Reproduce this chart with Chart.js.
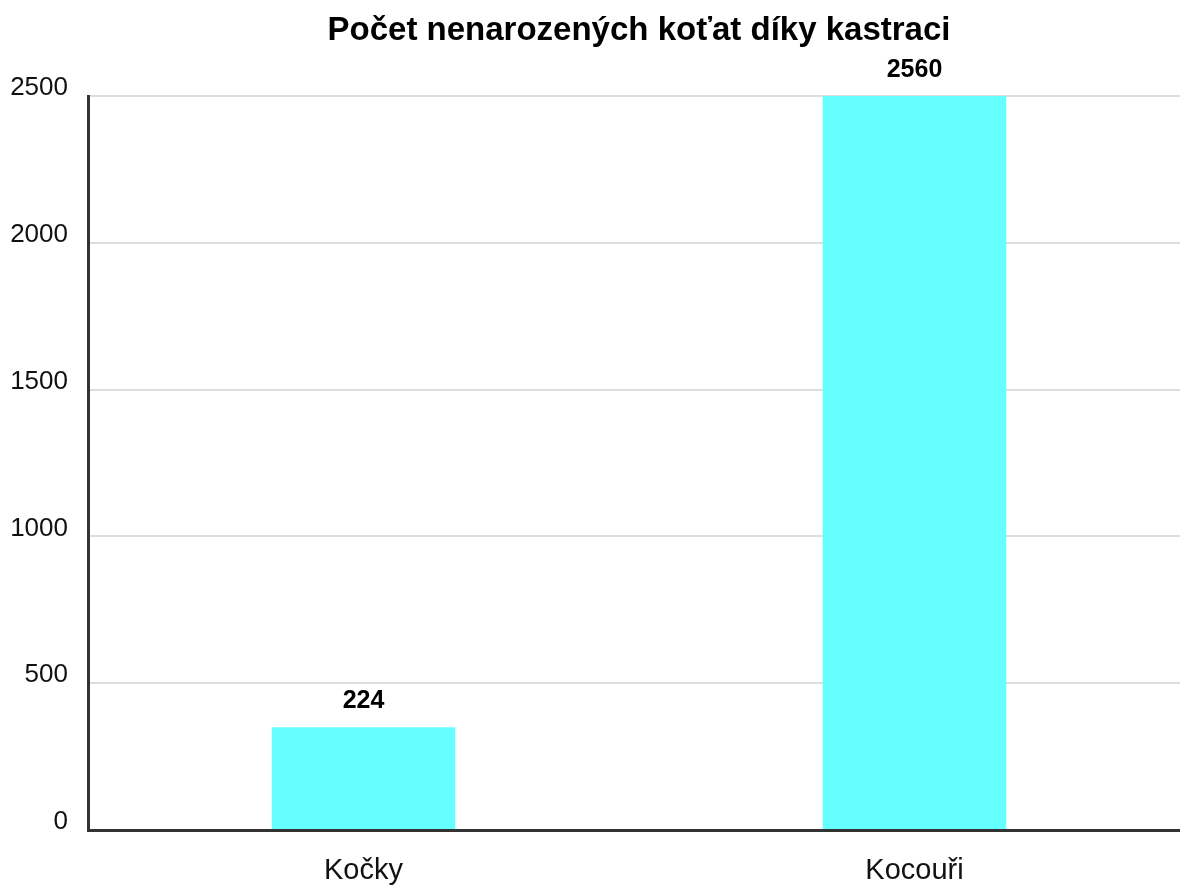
<!DOCTYPE html>
<html>
<head>
<meta charset="utf-8">
<script src="https://cdn.jsdelivr.net/npm/chart.js@4/dist/chart.umd.min.js"></script>
<style>
  html, body { margin: 0; padding: 0; background: #fff; overflow: hidden; }
  #wrap { position: relative; width: 1192px; height: 892px; }
</style>
</head>
<body>
<div id="wrap"><canvas id="c" width="1192" height="892"></canvas></div>
<script>
const titleText = "Počet nenarozených koťat díky kastraci";
const categories = ["Kočky", "Kocouři"];
const barValues = [350, 2560];
const valueLabels = ["224", "2560"];
const yTicks = [0, 500, 1000, 1500, 2000, 2500];

const FONT = "'Liberation Sans', Arial, sans-serif";

const overlayPlugin = {
  id: 'overlay',
  afterDatasetsDraw(chart) {
    const ctx = chart.ctx;
    const area = chart.chartArea;
    ctx.save();
    ctx.fillStyle = '#000';
    ctx.font = "bold 33px " + FONT;
    ctx.textAlign = 'center';
    ctx.textBaseline = 'middle';
    ctx.fillText(titleText, (area.left + area.right) / 2, 31);
    const meta = chart.getDatasetMeta(0);
    ctx.font = "bold 25px " + FONT;
    meta.data.forEach((bar, i) => {
      const top = Math.max(bar.y, area.top);
      ctx.fillText(valueLabels[i], bar.x, top - 26);
    });
    ctx.restore();
  }
};

new Chart(document.getElementById('c'), {
  type: 'bar',
  data: {
    labels: categories,
    datasets: [{
      data: barValues,
      backgroundColor: '#66FFFF',
      borderWidth: 0,
      barPercentage: 0.333,
      categoryPercentage: 1.0
    }]
  },
  options: {
    responsive: false,
    animation: false,
    devicePixelRatio: 1,
    layout: { padding: { top: 96, left: 0, right: 2, bottom: 0 } },
    plugins: { legend: { display: false }, tooltip: { enabled: false }, title: { display: false } },
    scales: {
      x: {
        grid: { display: false, drawTicks: false },
        border: { display: true, color: '#333', width: 3 },
        ticks: { color: '#111', font: { family: FONT, size: 29 }, padding: 24 },
        afterFit(scale) { scale.height = 62; }
      },
      y: {
        min: 0,
        max: 2500,
        afterBuildTicks(scale) { scale.ticks = yTicks.map(v => ({ value: v })); },
        grid: { color: '#dddddd', lineWidth: 2, drawTicks: false },
        border: { display: true, color: '#333', width: 3 },
        ticks: {
          color: '#111', font: { family: FONT, size: 26 }, padding: 20, labelOffset: -8,
          callback: (v) => String(v)
        },
        afterFit(scale) { scale.width = 88; }
      }
    }
  },
  plugins: [overlayPlugin]
});
</script>
</body>
</html>
